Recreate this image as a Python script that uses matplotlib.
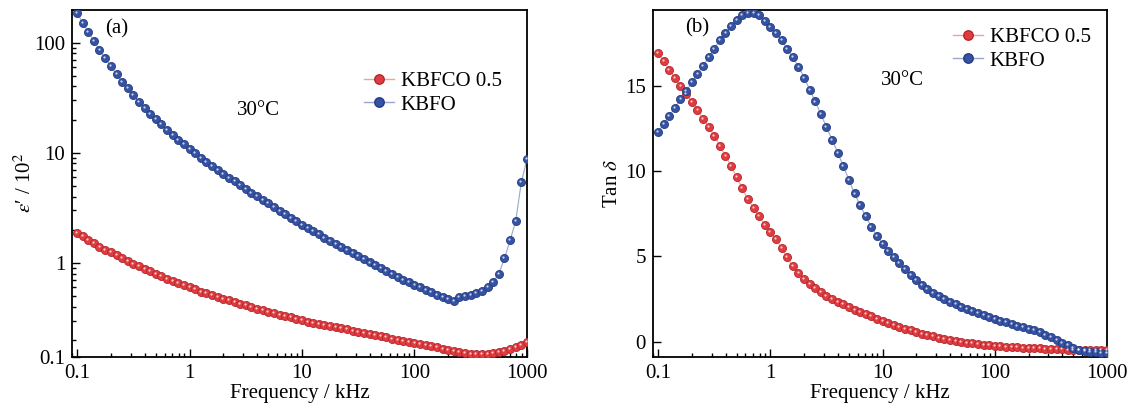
import matplotlib
matplotlib.use("Agg")
import matplotlib.pyplot as plt
from matplotlib.lines import Line2D
from matplotlib.ticker import FixedLocator, LogLocator, NullFormatter, NullLocator
from matplotlib.transforms import offset_copy

plt.rcParams["font.family"] = ["Liberation Serif", "DejaVu Serif"]
plt.rcParams["mathtext.fontset"] = "stix"

# ---------------------------------------------------------------------------
# Data (frequency in kHz)
# ---------------------------------------------------------------------------
freq_khz = [
    0.1, 0.112, 0.126, 0.141, 0.158, 0.178, 0.2, 0.224, 0.251, 0.282,
    0.316, 0.355, 0.398, 0.447, 0.501, 0.562, 0.631, 0.708, 0.794, 0.891,
    1, 1.12, 1.26, 1.41, 1.58, 1.78, 2, 2.24, 2.51, 2.82,
    3.16, 3.55, 3.98, 4.47, 5.01, 5.62, 6.31, 7.08, 7.94, 8.91,
    10, 11.2, 12.6, 14.1, 15.8, 17.8, 20, 22.4, 25.1, 28.2,
    31.6, 35.5, 39.8, 44.7, 50.1, 56.2, 63.1, 70.8, 79.4, 89.1,
    100, 112, 126, 141, 158, 178, 200, 224, 251, 282,
    316, 355, 398, 447, 501, 562, 631, 708, 794, 891,
    1000,
]

# (a) permittivity, in units of 10^2
eps_kbfco = [
    1.87, 1.74, 1.62, 1.51, 1.41, 1.32, 1.245, 1.17, 1.10, 1.04,
    0.98, 0.93, 0.885, 0.84, 0.80, 0.76, 0.72, 0.69, 0.66, 0.63,
    0.60, 0.575, 0.55, 0.53, 0.51, 0.49, 0.474, 0.457, 0.441, 0.427,
    0.412, 0.398, 0.385, 0.373, 0.361, 0.350, 0.340, 0.330, 0.320, 0.310,
    0.301, 0.294, 0.287, 0.280, 0.274, 0.267, 0.261, 0.255, 0.249, 0.243,
    0.238, 0.232, 0.227, 0.221, 0.216, 0.211, 0.206, 0.201, 0.197, 0.192,
    0.188, 0.184, 0.180, 0.176, 0.172, 0.167, 0.163, 0.159, 0.155, 0.152,
    0.150, 0.149, 0.149, 0.150, 0.152, 0.155, 0.159, 0.164, 0.171, 0.180,
    0.190,
]
eps_kbfo = [
    185, 152, 125, 103.5, 86, 72, 60.8, 51.6, 44.4, 38.4,
    33.4, 29.2, 25.7, 22.7, 20.2, 18.1, 16.2, 14.6, 13.2, 12.0,
    10.9, 9.9, 9.0, 8.3, 7.6, 7.0, 6.4, 5.9, 5.5, 5.1,
    4.7, 4.36, 4.04, 3.74, 3.47, 3.21, 2.99, 2.77, 2.58, 2.40,
    2.23, 2.08, 1.95, 1.82, 1.70, 1.59, 1.49, 1.39, 1.31, 1.22,
    1.15, 1.08, 1.01, 0.95, 0.90, 0.84, 0.79, 0.75, 0.70, 0.67,
    0.63, 0.60, 0.57, 0.54, 0.51, 0.49, 0.47, 0.455, 0.49, 0.50,
    0.51, 0.53, 0.56, 0.60, 0.67, 0.80, 1.1, 1.6, 2.4, 5.4,
    8.7,
]

# (b) loss tangent
tan_kbfco = [
    16.93, 16.45, 15.96, 15.47, 14.99, 14.52, 14.07, 13.6, 13.1, 12.6,
    12.1, 11.5, 10.9, 10.3, 9.65, 9.0, 8.35, 7.85, 7.35, 6.85,
    6.45, 6.0, 5.5, 4.95, 4.45, 4.05, 3.7, 3.4, 3.15, 2.9,
    2.7, 2.5, 2.35, 2.2, 2.03, 1.88, 1.74, 1.61, 1.48, 1.35,
    1.22, 1.1, 0.98, 0.86, 0.76, 0.66, 0.56, 0.47, 0.39, 0.31,
    0.24, 0.17, 0.11, 0.05, 0.0, -0.05, -0.1, -0.14, -0.18, -0.21,
    -0.24, -0.27, -0.29, -0.31, -0.33, -0.35, -0.36, -0.38, -0.39, -0.41,
    -0.42, -0.44, -0.45, -0.46, -0.47, -0.48, -0.49, -0.49, -0.5, -0.5,
    -0.5,
]
tan_kbfo = [
    12.3, 12.78, 13.26, 13.74, 14.22, 14.72, 15.22, 15.72, 16.2, 16.7,
    17.2, 17.7, 18.15, 18.55, 18.9, 19.15, 19.3, 19.3, 19.15, 18.85,
    18.5, 18.1, 17.7, 17.2, 16.7, 16.15, 15.5, 14.8, 14.1, 13.35,
    12.6, 11.85, 11.1, 10.3, 9.5, 8.7, 8.0, 7.35, 6.75, 6.2,
    5.75, 5.35, 4.95, 4.6, 4.25, 3.9, 3.6, 3.35, 3.1, 2.88,
    2.68, 2.5, 2.35, 2.2, 2.06, 1.92, 1.8, 1.68, 1.57, 1.46,
    1.35, 1.24, 1.13, 1.03, 0.93, 0.84, 0.76, 0.66, 0.55, 0.4,
    0.25, 0.1, -0.05, -0.2, -0.37, -0.47, -0.53, -0.58, -0.62, -0.65,
    -0.68,
]

labels = ["KBFCO 0.5", "KBFO"]

# styling
RED_FACE, RED_EDGE, RED_LINE = "#e03c40", "#b3262c", "#f2a0a0"
BLUE_FACE, BLUE_EDGE, BLUE_LINE = "#3552a3", "#233c85", "#9aa6cc"
FS = 15
MS = 5.8

fig = plt.figure(figsize=(11.32, 4.08), dpi=100)
ax1 = fig.add_axes([0.0636, 0.125, 0.4019, 0.8517])
ax2 = fig.add_axes([0.5769, 0.125, 0.4010, 0.8517])


def draw_series(ax, x, y, face, edge, line):
    ax.plot(x, y, "-", color=line, lw=0.8, zorder=2)
    ax.plot(x, y, "o", ms=MS, mfc=face, mec=edge, mew=0.6, zorder=3)
    # little specular highlight like the original balls
    hl = offset_copy(ax.transData, fig=fig, x=-0.7, y=0.7, units="points")
    ax.plot(x, y, "o", ms=1.6, mfc="white", mec="none", alpha=0.75,
            transform=hl, zorder=4)


def legend_handles():
    return [
        Line2D([], [], color=RED_LINE, lw=1.0, marker="o", ms=MS + 1,
               mfc=RED_FACE, mec=RED_EDGE, label=labels[0]),
        Line2D([], [], color=BLUE_LINE, lw=1.0, marker="o", ms=MS + 1,
               mfc=BLUE_FACE, mec=BLUE_EDGE, label=labels[1]),
    ]


for ax in (ax1, ax2):
    ax.set_xscale("log")
    ax.set_xlim(0.09, 1000)
    ax.xaxis.set_major_locator(FixedLocator([0.1, 1, 10, 100, 1000]))
    ax.set_xticklabels(["0.1", "1", "10", "100", "1000"])
    ax.xaxis.set_minor_locator(LogLocator(base=10, subs=range(2, 10)))
    ax.xaxis.set_minor_formatter(NullFormatter())
    ax.tick_params(which="both", direction="in", top=False, right=False,
                   labelsize=FS, width=1.0, pad=5)
    ax.tick_params(which="major", length=6)
    ax.tick_params(which="minor", length=3)
    for s in ax.spines.values():
        s.set_linewidth(1.3)
    ax.set_xlabel("Frequency / kHz", fontsize=FS, labelpad=1)

# ---------------------------- panel (a) ------------------------------------
draw_series(ax1, freq_khz, eps_kbfco, RED_FACE, RED_EDGE, RED_LINE)
draw_series(ax1, freq_khz, eps_kbfo, BLUE_FACE, BLUE_EDGE, BLUE_LINE)
ax1.set_yscale("log")
ax1.set_ylim(0.14, 200)
ax1.yaxis.set_major_locator(FixedLocator([0.14, 1, 10, 100]))
ax1.set_yticklabels(["0.1", "1", "10", "100"])
ax1.yaxis.set_minor_locator(LogLocator(base=10, subs=range(2, 10)))
ax1.yaxis.set_minor_formatter(NullFormatter())
ax1.set_ylabel("$\\varepsilon$\u2032 / 10$^2$", fontsize=FS, labelpad=-1)
ax1.text(0.073, 0.945, "(a)", transform=ax1.transAxes, fontsize=FS,
         ha="left", va="center")
ax1.text(0.41, 0.71, "30°C", transform=ax1.transAxes, fontsize=FS,
         ha="center", va="center")
ax1.legend(handles=legend_handles(), loc="center left",
           bbox_to_anchor=(0.642, 0.76), frameon=False, fontsize=FS,
           handlelength=1.45, handletextpad=0.3, labelspacing=0.2,
           borderpad=0, borderaxespad=0)

# ---------------------------- panel (b) ------------------------------------
draw_series(ax2, freq_khz, tan_kbfco, RED_FACE, RED_EDGE, RED_LINE)
draw_series(ax2, freq_khz, tan_kbfo, BLUE_FACE, BLUE_EDGE, BLUE_LINE)
ax2.set_ylim(-0.9, 19.5)
ax2.set_yticks([0, 5, 10, 15])
ax2.yaxis.set_minor_locator(NullLocator())
ax2.set_ylabel(r"Tan $\delta$", fontsize=FS, labelpad=2)
ax2.text(0.07, 0.948, "(b)", transform=ax2.transAxes, fontsize=FS,
         ha="left", va="center")
ax2.text(0.55, 0.796, "30°C", transform=ax2.transAxes, fontsize=FS,
         ha="center", va="center")
ax2.legend(handles=legend_handles(), loc="center left",
           bbox_to_anchor=(0.661, 0.886), frameon=False, fontsize=FS,
           handlelength=1.45, handletextpad=0.3, labelspacing=0.2,
           borderpad=0, borderaxespad=0)

fig.savefig("out.png", dpi=100)
